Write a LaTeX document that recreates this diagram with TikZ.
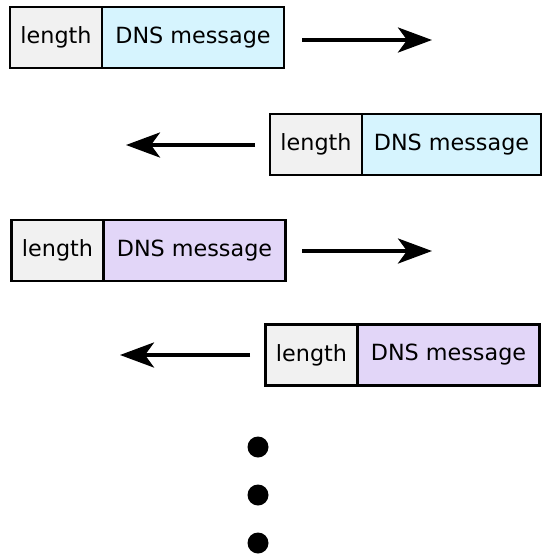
\documentclass[tikz,border=0pt]{standalone}
\usepackage{fontspec}
\setmainfont{DejaVu Sans}
\usetikzlibrary{positioning,arrows.meta}
\definecolor{lencol}{HTML}{F1F1F1}
\definecolor{querycol}{HTML}{D6F4FE}
\definecolor{replycol}{HTML}{E2D6F8}
\tikzset{
  field/.style={draw,line width=2.6pt,minimum height=61pt,inner sep=0pt,outer sep=0pt,font=\fontsize{22.3pt}{26pt}\selectfont},
  lenfield/.style={field,fill=lencol,minimum width=92pt},
  msgfield/.style={field,minimum width=182pt},
  flow/.style={line width=4pt,-{Stealth[length=34pt,width=25pt,inset=9pt]}},
}
\begin{document}
\begin{tikzpicture}[x=1pt,y=-1pt]
        \useasboundingbox (0,0) rectangle (544,555);
        % client -> server
        \node[lenfield] (L1) at (56,37.5){length};
        \node[msgfield,fill=querycol,right=0pt of L1] (M1){DNS message};
        \coordinate (A1s) at (302,40); \coordinate (A1e) at (432,40);
        \draw[flow] (A1s)--(A1e);
        % server -> client
        \node[lenfield] (L2) at (316,144.5){length};
        \node[msgfield,fill=querycol,minimum width=179pt,right=0pt of L2] (M2){DNS message};
        \coordinate (A2s) at (255,145); \coordinate (A2e) at (126,145);
        \draw[flow] (A2s)--(A2e);
        % second query
        \node[lenfield] (L3) at (57.5,250.5){length};
        \node[msgfield,fill=replycol,right=0pt of L3] (M3){DNS message};
        \coordinate (A3s) at (302,251); \coordinate (A3e) at (432,251);
        \draw[flow] (A3s)--(A3e);
        % second reply
        \node[lenfield] (L4) at (311.5,355){length};
        \node[msgfield,fill=replycol,right=0pt of L4] (M4){DNS message};
        \coordinate (A4s) at (250,355); \coordinate (A4e) at (120,355);
        \draw[flow] (A4s)--(A4e);
        % and so on
        \foreach \y in {447,495,543}
            \fill (258,\y) circle (10.5);
    \end{tikzpicture}
\end{document}
